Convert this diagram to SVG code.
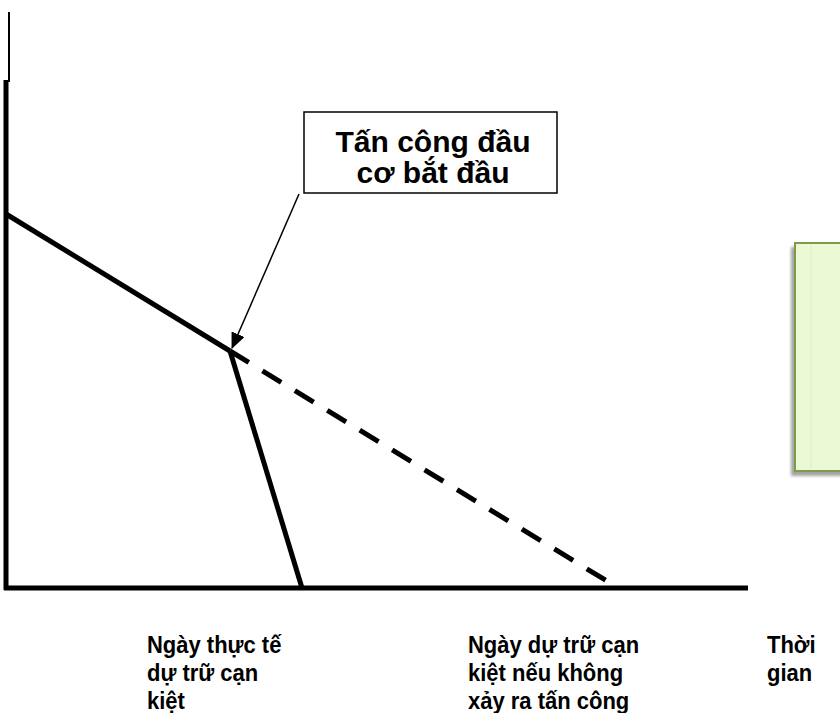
<svg xmlns="http://www.w3.org/2000/svg" width="840" height="713" viewBox="0 0 840 713">
<defs>
<style>
.ax{stroke:#000;stroke-width:5;fill:none}
.ln{stroke:#000;stroke-width:5;fill:none}
.t{font-family:"Liberation Sans",Arial,sans-serif;font-weight:bold;fill:#000}
.lbl{font-size:22px}
.bx{font-size:30px}
</style>
<marker id="ah" markerWidth="16" markerHeight="14" refX="15" refY="7" orient="auto" markerUnits="userSpaceOnUse">
<path d="M0,0 L16,7 L0,14 z" fill="#000"/>
</marker>
<filter id="sh" x="-30%" y="-5%" width="160%" height="115%">
<feGaussianBlur stdDeviation="1.5"/>
</filter>
</defs>
<rect width="840" height="713" fill="#fff"/>
<g id="axes">
<line x1="9" y1="12" x2="9" y2="82" stroke="#000" stroke-width="2"/>
<line x1="6" y1="80" x2="6" y2="590" class="ax"/>
<line x1="4" y1="588" x2="748" y2="588" class="ax"/>
</g>
<g id="connectors">
<line x1="6" y1="214" x2="230" y2="351" class="ln"/>
<line x1="230" y1="351" x2="302" y2="588" class="ln"/>
<line x1="230" y1="351" x2="615" y2="586" class="ln" stroke-dasharray="22,16"/>
<line x1="299" y1="194" x2="232" y2="348" stroke="#000" stroke-width="1.5" marker-end="url(#ah)"/>
</g>
<g id="callout">
<rect x="304" y="112" width="253" height="81" fill="#fff" stroke="#000" stroke-width="1.5"/>
<text class="t bx" x="433" y="152" text-anchor="middle">Tấn công đầu</text>
<text class="t bx" x="433" y="183" text-anchor="middle">cơ bắt đầu</text>
</g>
<g id="greenbox">
<rect x="791" y="247" width="60" height="229" fill="#8c8c8c" filter="url(#sh)" opacity="0.8"/>
<rect x="795" y="243" width="60" height="228" fill="#ebfad5" stroke="#7f9a48" stroke-width="2"/>
<line x1="811" y1="245" x2="811" y2="469" stroke="#dfeccb" stroke-width="1"/>
</g>
<g id="labels">
<text class="t lbl" transform="translate(147,653) scale(1,1.08)">Ngày thực tế</text>
<text class="t lbl" transform="translate(147,681) scale(1,1.08)">dự trữ cạn</text>
<text class="t lbl" transform="translate(147,709) scale(1,1.08)">kiệt</text>
<text class="t lbl" transform="translate(468,653) scale(1,1.08)">Ngày dự trữ cạn</text>
<text class="t lbl" transform="translate(468,681) scale(1,1.08)">kiệt nếu  không</text>
<text class="t lbl" transform="translate(468,709) scale(1,1.08)">xảy ra tấn công</text>
<text class="t lbl" transform="translate(767,653) scale(1,1.08)">Thời</text>
<text class="t lbl" transform="translate(767,681) scale(1,1.08)">gian</text>
</g>
</svg>
